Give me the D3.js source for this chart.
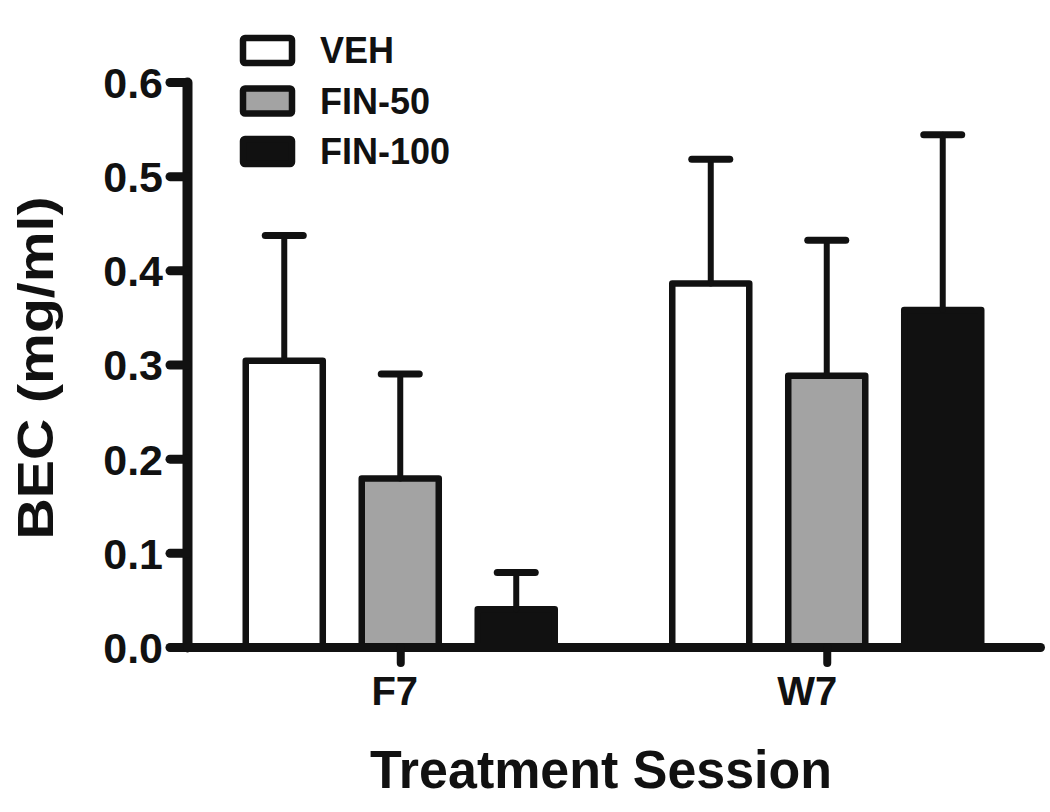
<!DOCTYPE html>
<html>
<head>
<meta charset="utf-8">
<script src="https://cdn.jsdelivr.net/npm/d3@7"></script>
<style>
  html, body { margin: 0; padding: 0; background: #fff; }
  svg { display: block; }
  text { font-family: "Liberation Sans", Arial, sans-serif; font-weight: bold; fill: #111; }
</style>
</head>
<body>
<svg id="chart" width="1050" height="812"></svg>
<script>
// ---- data ----
const sessions = ["F7", "W7"];
const groups = ["VEH", "FIN-50", "FIN-100"];
const meanF7 = [0.304, 0.179, 0.040];
const meanW7 = [0.386, 0.288, 0.358];
const errF7 = [0.133, 0.111, 0.039];   // upper SEM
const errW7 = [0.132, 0.144, 0.186];
const yTicks = [0, 0.1, 0.2, 0.3, 0.4, 0.5, 0.6];
const groupFill = ["#ffffff", "#a3a3a3", "#111111"];

const rows = [];
sessions.forEach((s, i) => {
  const m = i === 0 ? meanF7 : meanW7;
  const e = i === 0 ? errF7 : errW7;
  groups.forEach((g, j) => rows.push({ session: s, group: g, mean: m[j], err: e[j] }));
});

const svg = d3.select("#chart");
const ink = "#111";

const y = d3.scaleLinear().domain([0, 0.6]).range([647, 82]);
const x0 = d3.scalePoint().domain(sessions).range([187, 1040]).padding(0.5);
const x1 = d3.scaleBand().domain(groups).range([-154.5, 154.5]).paddingInner(0.336).paddingOuter(0);
const color = d3.scaleOrdinal().domain(groups).range(groupFill);

// bars
const barG = svg.append("g");
barG.selectAll("rect.bar").data(rows).join("rect")
  .attr("class", "bar")
  .attr("x", d => x0(d.session) + x1(d.group))
  .attr("y", d => y(d.mean))
  .attr("width", x1.bandwidth())
  .attr("height", d => y(0) - y(d.mean))
  .attr("fill", d => color(d.group))
  .attr("stroke", ink)
  .attr("stroke-width", 6.5)
  .attr("stroke-linejoin", "round");

// error bars (upper)
const eb = svg.append("g").attr("stroke", ink).attr("stroke-linecap", "round");
eb.selectAll("line.v").data(rows).join("line")
  .attr("x1", d => x0(d.session) + x1(d.group) + x1.bandwidth() / 2)
  .attr("x2", d => x0(d.session) + x1(d.group) + x1.bandwidth() / 2)
  .attr("y1", d => y(d.mean))
  .attr("y2", d => y(d.mean + d.err))
  .attr("stroke-width", 6);
eb.selectAll("line.c").data(rows).join("line")
  .attr("x1", d => x0(d.session) + x1(d.group) + x1.bandwidth() / 2 - 19)
  .attr("x2", d => x0(d.session) + x1(d.group) + x1.bandwidth() / 2 + 19)
  .attr("y1", d => y(d.mean + d.err))
  .attr("y2", d => y(d.mean + d.err))
  .attr("stroke-width", 7);

// y axis
const yAxis = svg.append("g").attr("transform", "translate(187,0)")
  .call(d3.axisLeft(y).tickValues(yTicks).tickFormat(d3.format(".1f")).tickSize(17).tickSizeOuter(0).tickPadding(7));
yAxis.select(".domain").attr("stroke", ink).attr("stroke-width", 10).attr("stroke-linecap", "round");
yAxis.selectAll(".tick line").attr("stroke", ink).attr("stroke-width", 9).attr("stroke-linecap", "round");
yAxis.selectAll(".tick text").attr("font-size", 43).attr("dy", "0.36em")
  .style("font-family", "'Liberation Sans', Arial, sans-serif").style("font-weight", "bold").attr("fill", ink);

// x axis
const xAxis = svg.append("g").attr("transform", "translate(0,647)")
  .call(d3.axisBottom(x0).tickSize(16).tickSizeOuter(0));
xAxis.select(".domain").attr("stroke", ink).attr("stroke-width", 9).attr("stroke-linecap", "round");
xAxis.selectAll(".tick line").attr("stroke", ink).attr("stroke-width", 8).attr("stroke-linecap", "round");
xAxis.selectAll(".tick text").attr("font-size", 40).attr("y", 58).attr("dy", 0)
  .attr("dx", (d, i) => i === 0 ? -6 : -20)
  .style("font-family", "'Liberation Sans', Arial, sans-serif").style("font-weight", "bold").attr("fill", ink);

// axis titles
svg.append("text")
  .attr("transform", "translate(53,368) rotate(-90)")
  .attr("text-anchor", "middle")
  .attr("font-size", 50)
  .attr("textLength", 343).attr("lengthAdjust", "spacingAndGlyphs")
  .text("BEC (mg/ml)");
svg.append("text")
  .attr("x", 601).attr("y", 788)
  .attr("text-anchor", "middle")
  .attr("font-size", 54)
  .attr("textLength", 462).attr("lengthAdjust", "spacingAndGlyphs")
  .text("Treatment Session");

// legend
const leg = svg.append("g");
const legItems = leg.selectAll("g").data(groups).join("g")
  .attr("transform", (d, i) => `translate(243,${38 + i * 50.5})`);
legItems.append("rect")
  .attr("width", 49).attr("height", 25)
  .attr("rx", 2)
  .attr("fill", d => color(d))
  .attr("stroke", ink).attr("stroke-width", 6.5).attr("stroke-linejoin", "round");
legItems.append("text")
  .attr("x", 77).attr("y", 25)
  .attr("font-size", 36)
  .text(d => d);
</script>
</body>
</html>
